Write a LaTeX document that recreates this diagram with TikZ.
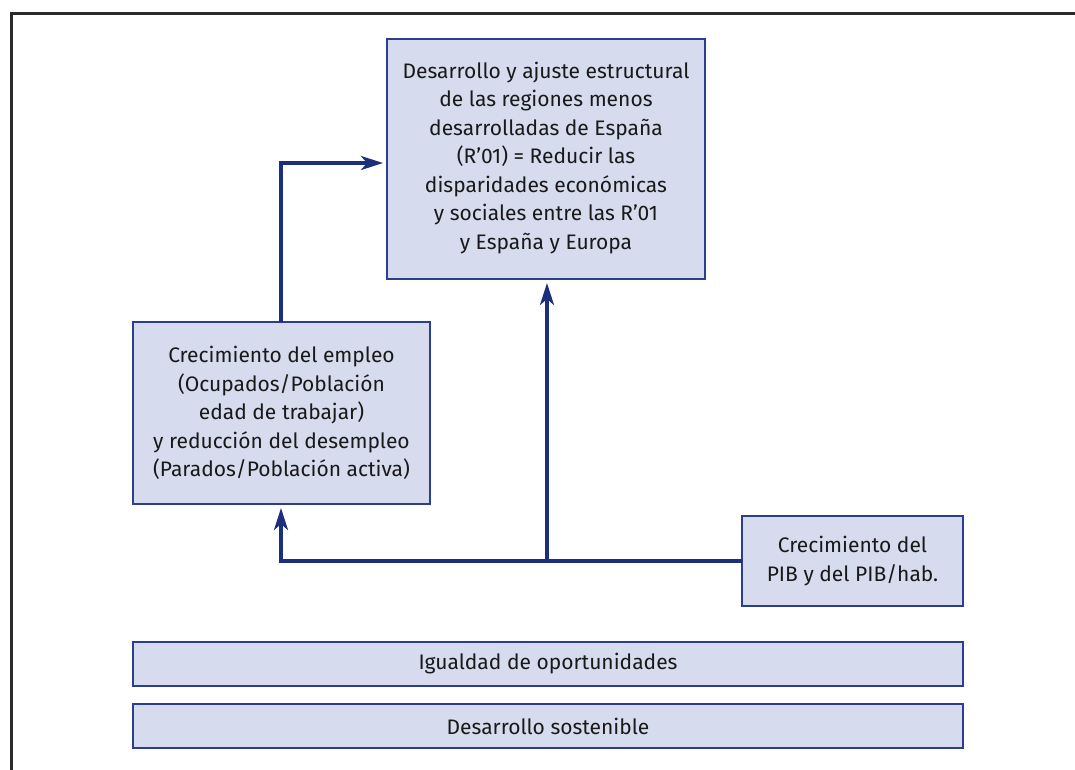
\documentclass[tikz,border=0pt]{standalone}
\usepackage{fontspec}
\setmainfont{Fira Sans}
\usetikzlibrary{arrows.meta}
\definecolor{boxfill}{HTML}{D6DBED}
\definecolor{boxline}{HTML}{2B3F8F}
\definecolor{arrline}{HTML}{1B2F7C}
\definecolor{frameline}{HTML}{2A2A2A}
\begin{document}
\begin{tikzpicture}[x=1pt,y=-1pt,
  box/.style={draw=boxline,fill=boxfill,line width=1.6pt,align=center,inner sep=0pt,
    font=\fontsize{21}{28.5}\selectfont,text=black!90},
  conn/.style={draw=arrline,line width=3.2pt},
  arr/.style={conn,-{Stealth[length=22pt,width=14pt,inset=6pt]},shorten >=4pt}]
\useasboundingbox (0,0) rectangle (1075,769);
\draw[frameline,line width=3pt] (11.5,771) -- (11.5,13.5) -- (1077,13.5);
% boxes
\path[box] (387,39) rectangle (705,279);
\node[box,draw=none,fill=none] (top) at (546,158) {Desarrollo y ajuste estructural\\de las regiones menos\\desarrolladas de España\\(R’01) = Reducir las\\disparidades económicas\\y sociales entre las R’01\\y España y Europa};
\coordinate (topW) at (387,163);
\coordinate (topS) at (547,279);
\path[box] (133,322) rectangle (430,504);
\node[box,draw=none,fill=none] (emp) at (281.5,413) {Crecimiento del empleo\\(Ocupados/Población\\edad de trabajar)\\y reducción del desempleo\\(Parados/Población activa)};
\coordinate (empN) at (281,322);
\coordinate (empS) at (281,504);
\path[box] (742,516) rectangle (963,606);
\node[box,draw=none,fill=none] (pib) at (852.5,561) {Crecimiento del\\PIB y del PIB/hab.};
\coordinate (pibW) at (742,561);
\path[box] (133,642) rectangle (963,686);
\node[box,draw=none,fill=none] (igu) at (548,664) {Igualdad de oportunidades};
\path[box] (133,704) rectangle (963,748);
\node[box,draw=none,fill=none] (sos) at (548,726) {Desarrollo sostenible};
% connectors
\coordinate (jn) at (547,561);
\draw[arr] (empN) |- (topW);
\draw[arr] (pibW) -| (empS);
\draw[arr] (jn) -- (topS);
\end{tikzpicture}
\end{document}
